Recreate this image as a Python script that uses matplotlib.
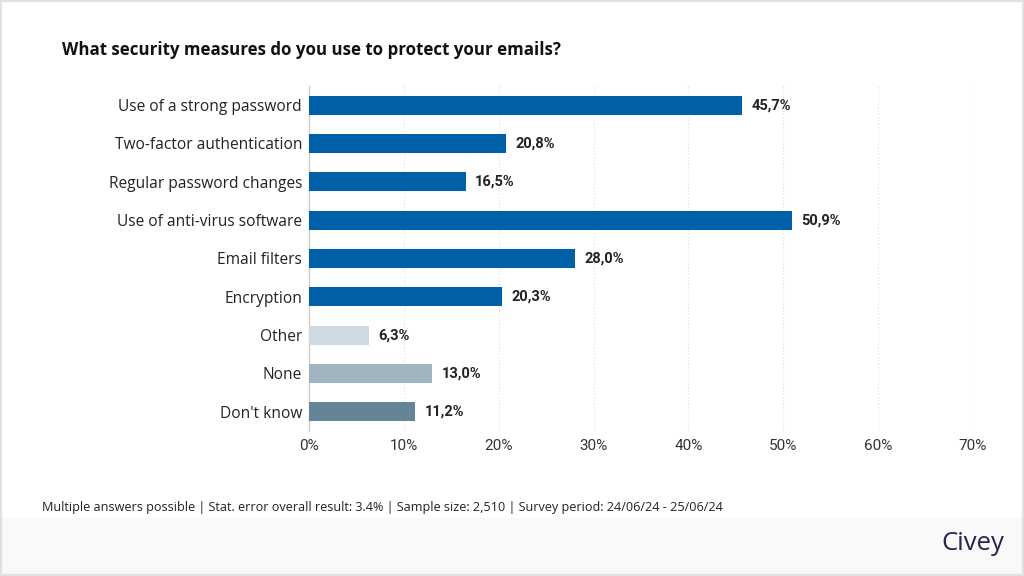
import matplotlib
matplotlib.use("Agg")
import matplotlib.pyplot as plt
from matplotlib.patches import Rectangle

# Data.
categories = ["Use of a strong password", "Two-factor authentication",
              "Regular password changes", "Use of anti-virus software",
              "Email filters", "Encryption", "Other", "None", "Don't know"]
values = [45.7, 20.8, 16.5, 50.9, 28.0, 20.3, 6.3, 13.0, 11.2]
bar_colors = ["#0061a8"] * 6 + ["#cfd9e1", "#a1b4c2", "#648597"]
ticks = [0, 10, 20, 30, 40, 50, 60, 70]

title = "What security measures do you use to protect your emails?"
footer = ("Multiple answers possible | Stat. error overall result: 3.4% | "
          "Sample size: 2,510 | Survey period: 24/06/24 - 25/06/24")

fig = plt.figure(figsize=(10.24, 5.76), dpi=100)
fig.patch.set_facecolor("white")

# Footer band and frame.
fig.patches.append(Rectangle((0, 0), 1, 58 / 576, transform=fig.transFigure,
                             facecolor="#f9f9f9", edgecolor="none", zorder=0))
fig.patches.append(Rectangle((0.001, 0.002), 0.998, 0.996,
                             transform=fig.transFigure, facecolor="none",
                             edgecolor="#e0e0e0", linewidth=1.5, zorder=5))

ax = fig.add_axes([309 / 1024, 1 - 431 / 576, 664 / 1024, 345 / 576])
y = list(range(len(categories)))
ax.barh(y, values, height=0.5, color=bar_colors, zorder=3)
ax.set_ylim(len(categories) - 0.5, -0.5)
ax.set_xlim(0, 70)

for yi, v in zip(y, values):
    ax.text(v + 1.0, yi, f"{v:.1f}%".replace(".", ","), va="center",
            ha="left", fontsize=10.5, fontweight="bold", color="#222222",
            family="Roboto")

ax.set_xticks(ticks)
ax.set_xticklabels([f"{t}%" for t in ticks], fontsize=11, color="#333333",
                   family="Roboto")
ax.set_yticks(y)
ax.set_yticklabels(categories, fontsize=11.2, color="#222222",
                   family="Open Sans")
ax.tick_params(axis="both", length=0)
ax.tick_params(axis="y", pad=5)
ax.tick_params(axis="x", pad=6)

for t in ticks[1:]:
    ax.axvline(t, color="#dddddd", linestyle=(0, (1, 2)), linewidth=0.8,
               zorder=1)
for s in ["top", "right", "bottom"]:
    ax.spines[s].set_visible(False)
ax.spines["left"].set_color("#cccccc")
ax.spines["left"].set_linewidth(1)

fig.text(62 / 1024, 1 - 50 / 576, title, fontsize=12.2, fontweight="bold",
         color="#111111", va="center", ha="left", family="Open Sans")
fig.text(42 / 1024, 1 - 508 / 576, footer, fontsize=9.1, color="#222222",
         va="center", ha="left", family="Open Sans")
fig.text(1004 / 1024, 1 - 544 / 576, "Civey", fontsize=18.5, color="#2e1f4f",
         va="center", ha="right", family="Open Sans")

fig.savefig("out.png", dpi=100)
